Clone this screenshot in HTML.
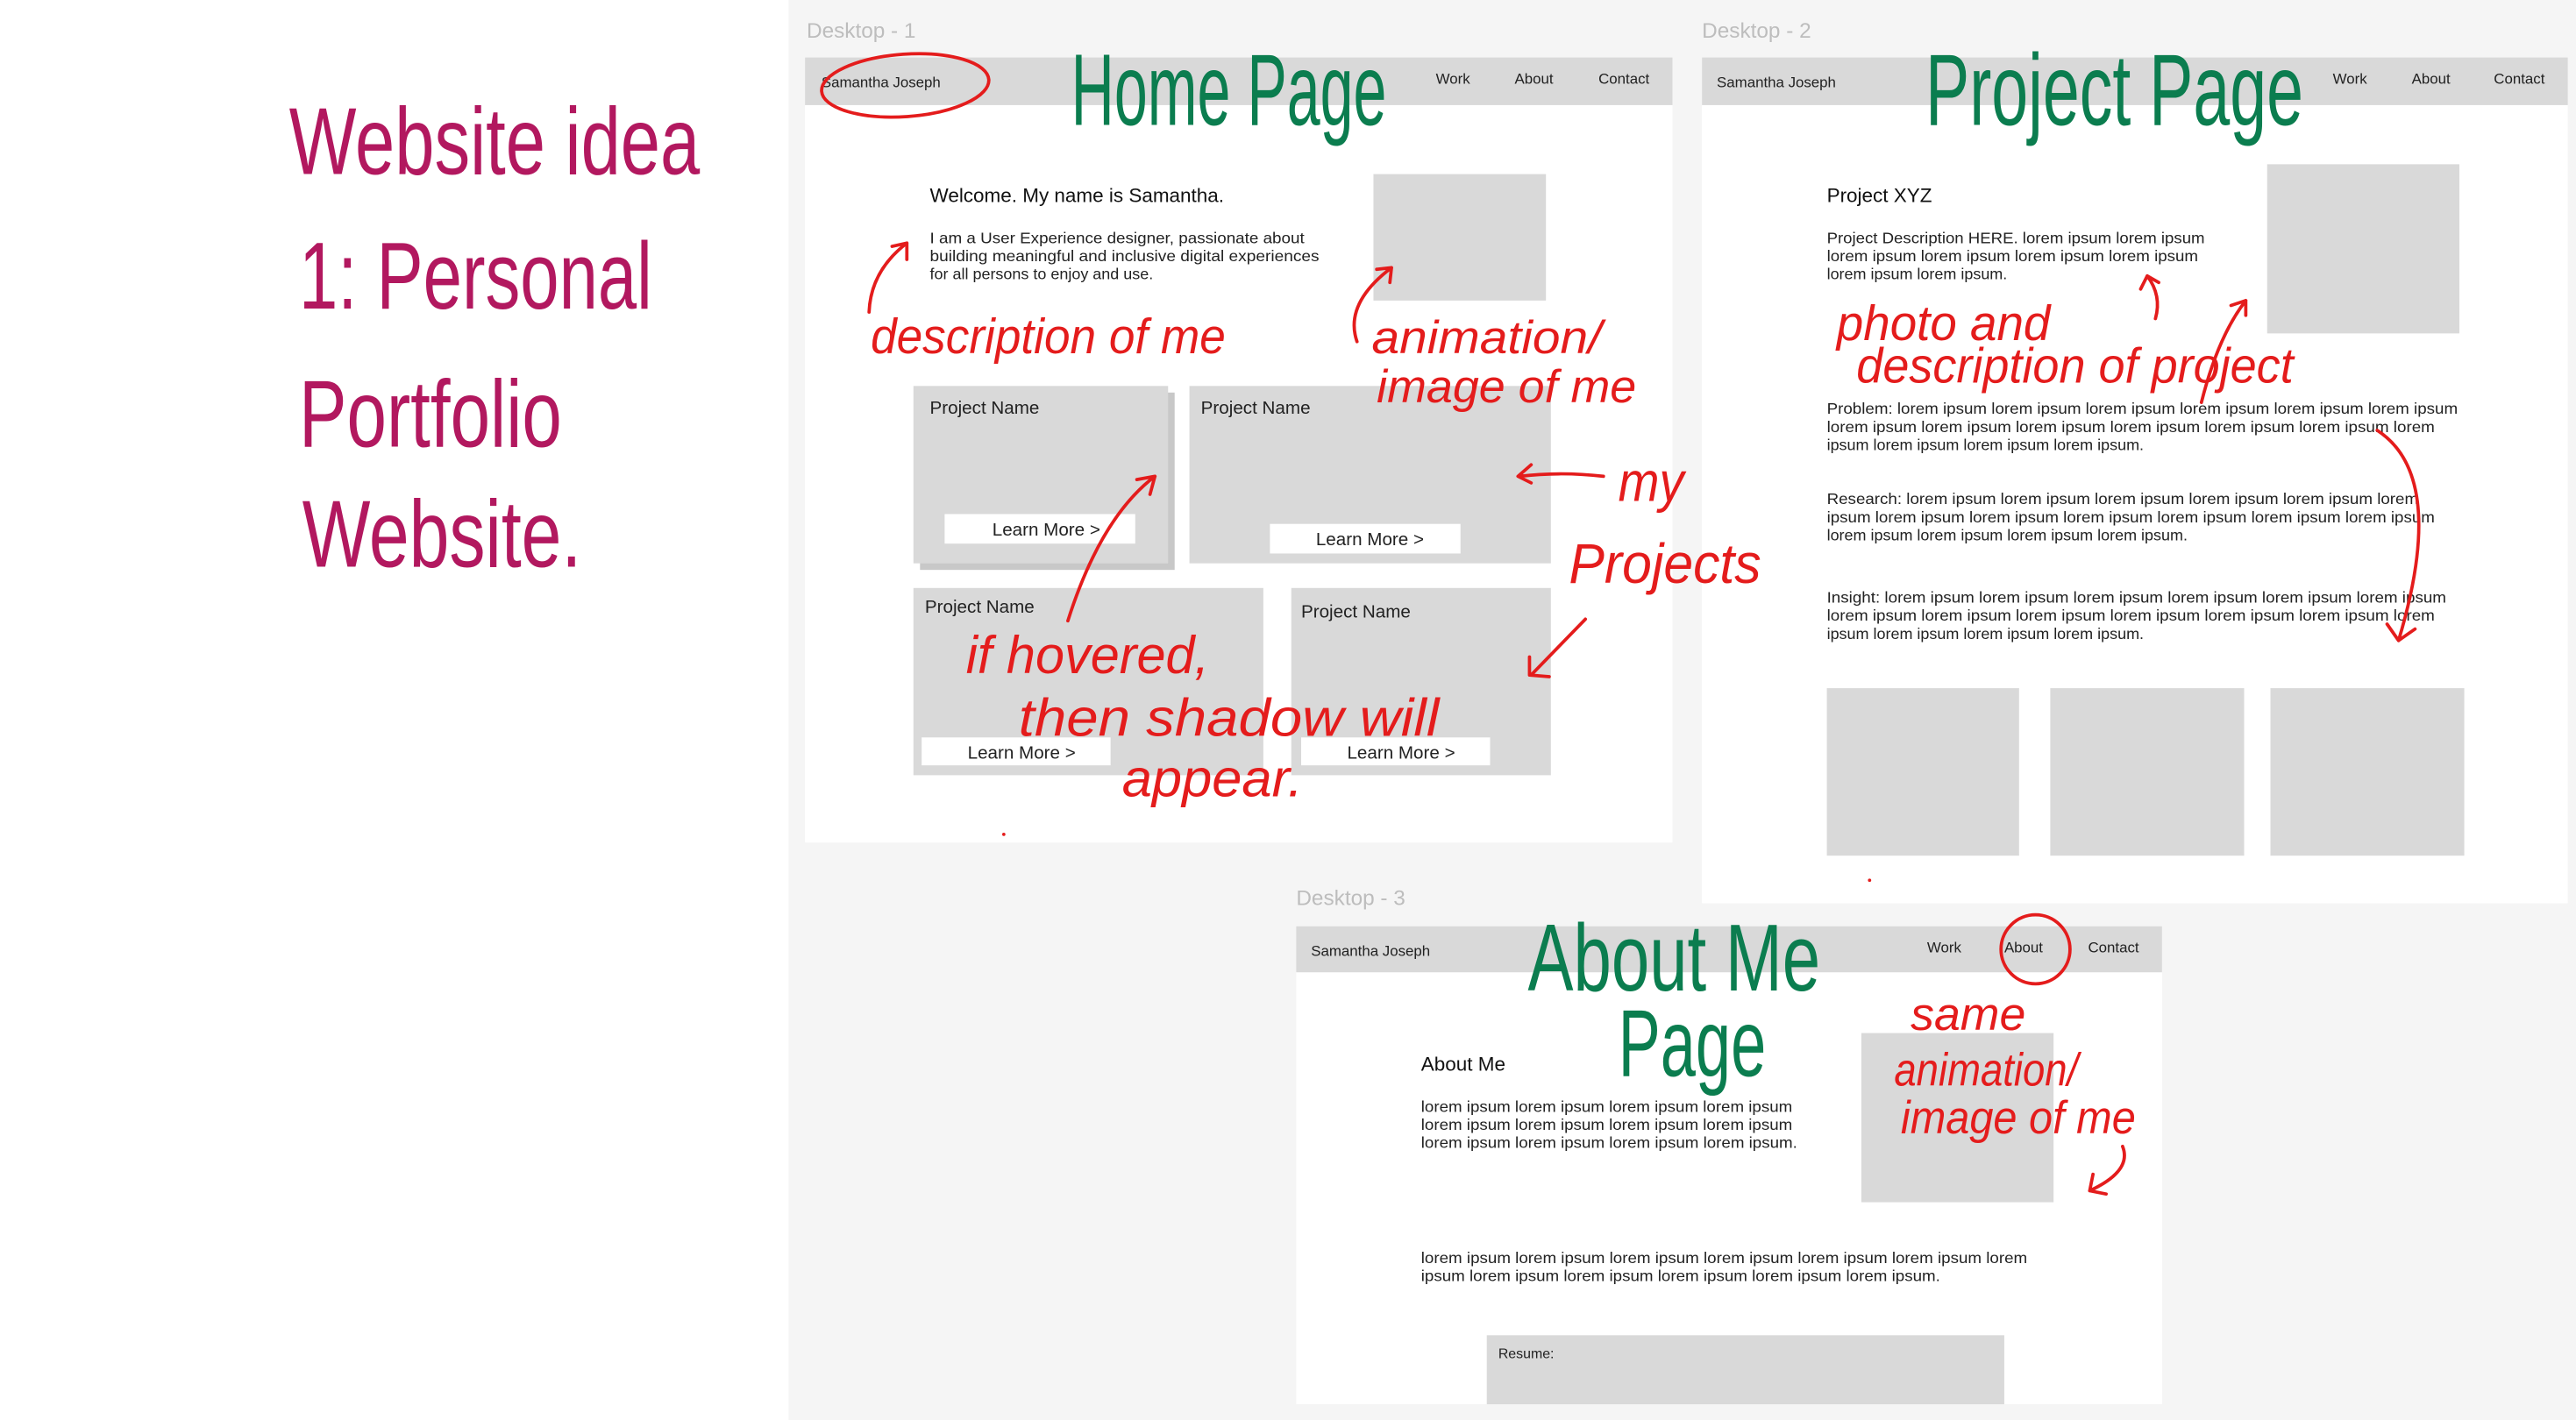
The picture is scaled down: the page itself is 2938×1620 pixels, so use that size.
<!DOCTYPE html>
<html><head><meta charset="utf-8"><style>
html,body{margin:0;padding:0;width:2938px;height:1620px;overflow:hidden;background:#fff}
svg{display:block}
text{font-family:"Liberation Sans",sans-serif}
.nav{font-size:9px;fill:#222}
.p{font-size:9.6px;fill:#222}
.lbl{font-size:13px;fill:#bdbdbd}
.hw{font-family:"DejaVu Sans Condensed","Liberation Sans Narrow","Liberation Sans",sans-serif;font-weight:300}
.red{fill:#e41c1c}
.grn{fill:#0b7d4f}
.arr{fill:none;stroke:#e41c1c;stroke-width:2;stroke-linecap:round;stroke-linejoin:round}
</style></head><body>
<svg width="2938" height="1620" viewBox="0 0 1568 864.6" preserveAspectRatio="none">
<rect x="0" y="0" width="1568" height="865" fill="#fff"/>
<rect x="480" y="0" width="1088" height="865" fill="#f5f5f5"/>

<!-- Left handwriting -->
<g class="hw" fill="#b2185f" font-size="58">
<text x="176" y="106" textLength="250" lengthAdjust="spacingAndGlyphs">Website idea</text>
<text x="182" y="188" textLength="215" lengthAdjust="spacingAndGlyphs">1: Personal</text>
<text x="182" y="272" textLength="160" lengthAdjust="spacingAndGlyphs">Portfolio</text>
<text x="184" y="345" textLength="170" lengthAdjust="spacingAndGlyphs">Website.</text>
</g>

<!-- Desktop 1 -->
<text class="lbl" x="491" y="23">Desktop - 1</text>
<rect x="490" y="35" width="528" height="478" fill="#fff"/>
<rect x="490" y="35" width="528" height="29" fill="#d9d9d9"/>
<text class="nav" x="500" y="53">Samantha Joseph</text>
<text class="nav" x="874" y="51">Work</text>
<text class="nav" x="922" y="51">About</text>
<text class="nav" x="973" y="51">Contact</text>
<text x="566" y="123" font-size="12" fill="#111">Welcome. My name is Samantha.</text>
<text class="p" x="566" y="148" textLength="228" lengthAdjust="spacingAndGlyphs">I am a User Experience designer, passionate about</text>
<text class="p" x="566" y="159" textLength="237" lengthAdjust="spacingAndGlyphs">building meaningful and inclusive digital experiences</text>
<text class="p" x="566" y="170">for all persons to enjoy and use.</text>
<rect x="836" y="106" width="105" height="77" fill="#d9d9d9"/>
<rect x="560" y="239" width="155" height="108" fill="#c8c8c8"/>
<rect x="556" y="235" width="155" height="108" fill="#d9d9d9"/>
<rect x="575" y="313" width="116" height="18" fill="#fff"/>
<text x="566" y="252" font-size="11" fill="#222">Project Name</text>
<text x="604" y="326" font-size="11" fill="#222">Learn More &gt;</text>
<rect x="724" y="235" width="220" height="108" fill="#d9d9d9"/>
<rect x="773" y="319" width="116" height="18" fill="#fff"/>
<text x="731" y="252" font-size="11" fill="#222">Project Name</text>
<text x="801" y="332" font-size="11" fill="#222">Learn More &gt;</text>
<rect x="556" y="358" width="213" height="114" fill="#d9d9d9"/>
<rect x="561" y="449" width="115" height="17" fill="#fff"/>
<text x="563" y="373" font-size="11" fill="#222">Project Name</text>
<text x="589" y="462" font-size="11" fill="#222">Learn More &gt;</text>
<rect x="786" y="358" width="158" height="114" fill="#d9d9d9"/>
<rect x="792" y="449" width="115" height="17" fill="#fff"/>
<text x="792" y="376" font-size="11" fill="#222">Project Name</text>
<text x="820" y="462" font-size="11" fill="#222">Learn More &gt;</text>

<!-- Desktop 2 -->
<text class="lbl" x="1036" y="23">Desktop - 2</text>
<rect x="1036" y="35" width="527" height="515" fill="#fff"/>
<rect x="1036" y="35" width="527" height="29" fill="#d9d9d9"/>
<text class="nav" x="1045" y="53">Samantha Joseph</text>
<text class="nav" x="1420" y="51">Work</text>
<text class="nav" x="1468" y="51">About</text>
<text class="nav" x="1518" y="51">Contact</text>
<text x="1112" y="123" font-size="12" fill="#111">Project XYZ</text>
<text class="p" x="1112" y="148" textLength="230" lengthAdjust="spacingAndGlyphs">Project Description HERE. lorem ipsum lorem ipsum</text>
<text class="p" x="1112" y="159" textLength="226" lengthAdjust="spacingAndGlyphs">lorem ipsum lorem ipsum lorem ipsum lorem ipsum</text>
<text class="p" x="1112" y="170">lorem ipsum lorem ipsum.</text>
<rect x="1380" y="100" width="117" height="103" fill="#d9d9d9"/>
<g class="p">
<text x="1112" y="252" textLength="384" lengthAdjust="spacingAndGlyphs">Problem: lorem ipsum lorem ipsum lorem ipsum lorem ipsum lorem ipsum lorem ipsum</text>
<text x="1112" y="263" textLength="370" lengthAdjust="spacingAndGlyphs">lorem ipsum lorem ipsum lorem ipsum lorem ipsum lorem ipsum lorem ipsum lorem</text>
<text x="1112" y="274">ipsum lorem ipsum lorem ipsum lorem ipsum.</text>
<text x="1112" y="307" textLength="360" lengthAdjust="spacingAndGlyphs">Research: lorem ipsum lorem ipsum lorem ipsum lorem ipsum lorem ipsum lorem</text>
<text x="1112" y="318" textLength="370" lengthAdjust="spacingAndGlyphs">ipsum lorem ipsum lorem ipsum lorem ipsum lorem ipsum lorem ipsum lorem ipsum</text>
<text x="1112" y="329">lorem ipsum lorem ipsum lorem ipsum lorem ipsum.</text>
<text x="1112" y="367" textLength="377" lengthAdjust="spacingAndGlyphs">Insight: lorem ipsum lorem ipsum lorem ipsum lorem ipsum lorem ipsum lorem ipsum</text>
<text x="1112" y="378" textLength="370" lengthAdjust="spacingAndGlyphs">lorem ipsum lorem ipsum lorem ipsum lorem ipsum lorem ipsum lorem ipsum lorem</text>
<text x="1112" y="389">ipsum lorem ipsum lorem ipsum lorem ipsum.</text>
</g>
<rect x="1112" y="419" width="117" height="102" fill="#d9d9d9"/>
<rect x="1248" y="419" width="118" height="102" fill="#d9d9d9"/>
<rect x="1382" y="419" width="118" height="102" fill="#d9d9d9"/>

<!-- Desktop 3 -->
<text class="lbl" x="789" y="551">Desktop - 3</text>
<rect x="789" y="564" width="527" height="291" fill="#fff"/>
<rect x="789" y="564" width="527" height="28" fill="#d9d9d9"/>
<text class="nav" x="798" y="582">Samantha Joseph</text>
<text class="nav" x="1173" y="580">Work</text>
<text class="nav" x="1220" y="580">About</text>
<text class="nav" x="1271" y="580">Contact</text>
<text x="865" y="652" font-size="12" fill="#111">About Me</text>
<text class="p" x="865" y="677" textLength="226" lengthAdjust="spacingAndGlyphs">lorem ipsum lorem ipsum lorem ipsum lorem ipsum</text>
<text class="p" x="865" y="688" textLength="226" lengthAdjust="spacingAndGlyphs">lorem ipsum lorem ipsum lorem ipsum lorem ipsum</text>
<text class="p" x="865" y="699" textLength="229" lengthAdjust="spacingAndGlyphs">lorem ipsum lorem ipsum lorem ipsum lorem ipsum.</text>
<rect x="1133" y="629" width="117" height="103" fill="#d9d9d9"/>
<text class="p" x="865" y="769" textLength="369" lengthAdjust="spacingAndGlyphs">lorem ipsum lorem ipsum lorem ipsum lorem ipsum lorem ipsum lorem ipsum lorem</text>
<text class="p" x="865" y="780" textLength="316" lengthAdjust="spacingAndGlyphs">ipsum lorem ipsum lorem ipsum lorem ipsum lorem ipsum lorem ipsum.</text>
<rect x="905" y="813" width="315" height="42" fill="#d9d9d9"/>
<text x="912" y="827" font-size="8.5" fill="#222">Resume:</text>

<!-- Green titles -->
<g class="hw grn">
<text x="652" y="76" font-size="62" textLength="192" lengthAdjust="spacingAndGlyphs">Home Page</text>
<text x="1172" y="76" font-size="62" textLength="230" lengthAdjust="spacingAndGlyphs">Project Page</text>
<text x="930" y="603" font-size="58" textLength="178" lengthAdjust="spacingAndGlyphs">About Me</text>
<text x="985" y="655" font-size="58" textLength="90" lengthAdjust="spacingAndGlyphs">Page</text>
</g>

<!-- Red annotations -->
<g class="hw red" font-style="italic">
<text x="530" y="215" font-size="30" textLength="216" lengthAdjust="spacingAndGlyphs">description of me</text>
<text x="835" y="215" font-size="28" textLength="140" lengthAdjust="spacingAndGlyphs">animation/</text>
<text x="838" y="245" font-size="28" textLength="158" lengthAdjust="spacingAndGlyphs">image of me</text>
<text x="985" y="305" font-size="34" textLength="40" lengthAdjust="spacingAndGlyphs">my</text>
<text x="955" y="355" font-size="34" textLength="117" lengthAdjust="spacingAndGlyphs">Projects</text>
<text x="588" y="410" font-size="32" textLength="148" lengthAdjust="spacingAndGlyphs">if hovered,</text>
<text x="620" y="448" font-size="32" textLength="256" lengthAdjust="spacingAndGlyphs">then shadow will</text>
<text x="683" y="485" font-size="32" textLength="110" lengthAdjust="spacingAndGlyphs">appear.</text>
<text x="1118" y="207" font-size="30" textLength="130" lengthAdjust="spacingAndGlyphs">photo and</text>
<text x="1130" y="233" font-size="30" textLength="266" lengthAdjust="spacingAndGlyphs">description of project</text>
<text x="1163" y="627" font-size="28" textLength="70" lengthAdjust="spacingAndGlyphs">same</text>
<text x="1153" y="661" font-size="28" textLength="112" lengthAdjust="spacingAndGlyphs">animation/</text>
<text x="1157" y="690" font-size="28" textLength="143" lengthAdjust="spacingAndGlyphs">image of me</text>
</g>

<!-- circles & arrows -->
<ellipse cx="551" cy="52" rx="51" ry="19" class="arr" transform="rotate(-4 551 52)"/>
<ellipse cx="1239" cy="578" rx="21" ry="21" class="arr"/>
<path class="arr" d="M529 190 Q530 165 552 148 M543 150 L552 148 L552 158"/>
<path class="arr" d="M826 208 Q818 185 847 163 M838 164 L847 163 L846 172"/>
<path class="arr" d="M650 378 Q670 315 703 290 M692 292 L703 290 L700 301"/>
<path class="arr" d="M976 290 Q950 287 925 290 M932 283 L924 290 L932 294"/>
<path class="arr" d="M965 377 L932 411 M931 400 L931 411 L943 412"/>
<path class="arr" d="M1312 194 Q1316 180 1307 168 M1303 176 L1307 168 L1314 172"/>
<path class="arr" d="M1340 245 Q1350 205 1367 183 M1358 186 L1367 183 L1367 192"/>
<path class="arr" d="M1447 262 Q1490 290 1460 390 M1453 380 L1460 390 L1470 383"/>
<path class="arr" d="M1292 698 Q1298 713 1272 725 M1274 715 L1272 725 L1282 727"/>
<circle cx="611" cy="508" r="1" fill="#e41c1c"/>
<circle cx="1138" cy="536" r="1" fill="#e41c1c"/>
</svg>
</body></html>
